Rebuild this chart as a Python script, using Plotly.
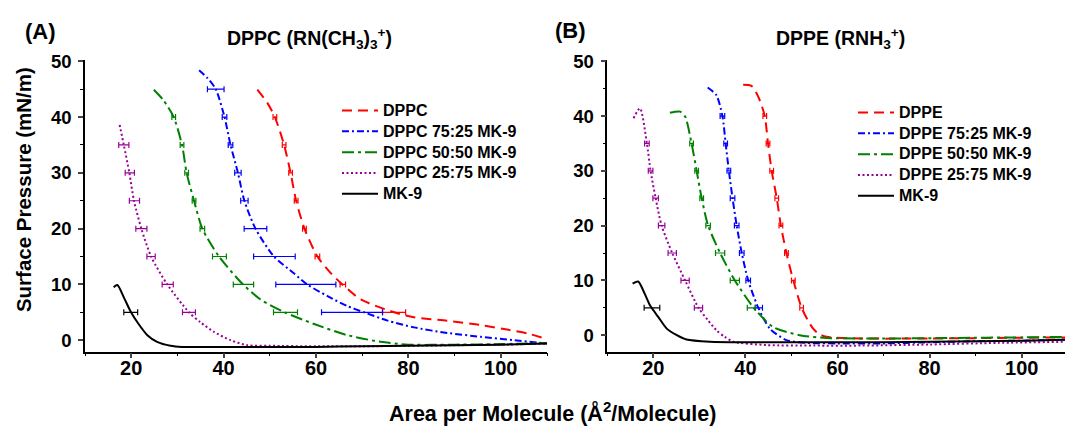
import plotly.graph_objects as go

# ---------------- Data ----------------
# Panel A : DPPC mixtures
A_names = ["DPPC", "DPPC 75:25 MK-9", "DPPC 50:50 MK-9", "DPPC 25:75 MK-9", "MK-9"]
A_dppc_x = [47.3, 49.5, 51.1, 53.1, 54.5, 55.7, 57.5, 60.3, 63.0, 65.7, 69.7, 76.9, 81.2, 88.4, 95.7, 100.7, 105.8, 110]
A_dppc_y = [44.9, 42.5, 40.0, 35.0, 30.0, 25.0, 20.0, 15.0, 12.2, 10.0, 7.3, 5.0, 4.1, 3.5, 2.7, 2.0, 1.2, 0.2]
A_7525_x = [34.7, 36.5, 38.3, 40.2, 41.5, 43.1, 44.5, 46.9, 50.9, 55.2, 58.1, 62.5, 66.8, 70.4, 75.5, 81.2, 88.4, 95.7, 102.9, 110]
A_7525_y = [48.4, 47.0, 45.0, 40.0, 35.0, 30.0, 25.0, 20.0, 15.0, 12.0, 10.0, 7.9, 6.1, 5.0, 3.5, 2.3, 1.3, 0.6, 0.0, -0.6]
A_5050_x = [24.9, 27.0, 29.2, 31.0, 32.0, 33.6, 35.4, 39.0, 44.2, 48.0, 53.2, 59.6, 66.8, 74.0, 80, 90, 100, 110]
A_5050_y = [44.9, 43.0, 40.0, 35.0, 30.0, 25.0, 20.0, 15.0, 10.0, 7.3, 5.0, 2.9, 0.9, -0.3, -0.8, -0.8, -0.7, -0.5]
A_2575_x = [17.5, 18.4, 19.6, 20.6, 22.2, 24.3, 27.8, 32.5, 35.0, 37.9, 41.5, 45.1, 50, 60, 70, 80, 90, 100, 110]
A_2575_y = [38.6, 35.0, 30.0, 25.0, 20.0, 15.0, 10.0, 5.0, 3.2, 1.5, 0.0, -0.9, -1.0, -1.1, -1.1, -1.0, -0.9, -0.8, -0.6]
A_mk9_x = [16.2, 17.0, 18.5, 19.9, 21.6, 23.5, 25.6, 28.5, 31.0, 40, 50, 60, 70, 80, 90, 100, 110]
A_mk9_y = [9.5, 9.9, 7.5, 5.1, 2.9, 0.9, -0.3, -1.0, -1.2, -1.2, -1.2, -1.2, -1.1, -1.0, -0.9, -0.8, -0.6]

# error bars (centre x, pressure level, half width)
A_dppc_ex = [51.1, 53.1, 54.5, 55.7, 57.5, 60.3, 65.8, 76.9]
A_dppc_ey = [40, 35, 30, 25, 20, 15, 10, 5]
A_dppc_eh = [0.4, 0.4, 0.4, 0.4, 0.4, 0.5, 0.6, 2.5]
A_7525_ex = [38.3, 40.2, 41.5, 43.1, 44.5, 46.9, 51.0, 57.8, 67.8]
A_7525_ey = [45, 40, 35, 30, 25, 20, 15, 10, 5]
A_7525_eh = [1.8, 0.5, 0.5, 0.7, 0.8, 2.45, 4.5, 6.5, 6.6]
A_5050_ex = [29.2, 31.0, 32.0, 33.6, 35.4, 39.1, 44.3, 53.4]
A_5050_ey = [40, 35, 30, 25, 20, 15, 10, 5]
A_5050_eh = [0.4, 0.4, 0.4, 0.4, 0.5, 1.5, 2.2, 2.6]
A_2575_ex = [18.4, 19.7, 20.7, 22.2, 24.3, 27.9, 32.5]
A_2575_ey = [35, 30, 25, 20, 15, 10, 5]
A_2575_eh = [1.1, 1.0, 1.1, 1.2, 0.9, 1.2, 1.4]
A_mk9_ex = [19.9]
A_mk9_ey = [5]
A_mk9_eh = [1.5]

# Panel B : DPPE mixtures
B_names = ["DPPE", "DPPE 75:25 MK-9", "DPPE 50:50 MK-9", "DPPE 25:75 MK-9", "MK-9"]
B_dppe_x = [39.5, 41.3, 42.8, 44.2, 44.9, 45.7, 46.8, 47.7, 48.9, 50.4, 52.2, 53.5, 54.7, 56.0, 57.6, 65, 80, 95, 110]
B_dppe_y = [45.7, 45.5, 43.5, 40.0, 35.0, 30.0, 25.0, 20.0, 15.0, 10.0, 5.0, 2.8, 1.2, 0.2, -0.3, -0.6, -0.6, -0.5, -0.4]
B_7525_x = [31.8, 33.7, 35.0, 35.7, 36.4, 37.2, 38.1, 39.2, 40.6, 42.8, 45.3, 48.9, 53.3, 60, 70, 80, 90, 100, 110]
B_7525_y = [45.2, 43.8, 40.0, 35.0, 30.0, 25.0, 20.0, 15.0, 10.0, 5.0, 1.2, -0.9, -1.4, -1.5, -1.5, -1.3, -1.1, -1.0, -0.8]
B_5050_x = [23.6, 25.8, 26.9, 28.3, 29.4, 30.5, 31.9, 34.5, 37.7, 41.8, 46.0, 51.8, 57.6, 70, 85, 100, 110]
B_5050_y = [40.6, 40.8, 39.9, 35.0, 30.0, 25.0, 20.0, 15.0, 10.0, 5.0, 1.5, 0.0, -0.5, -0.6, -0.5, -0.4, -0.3]
B_2575_x = [15.7, 17.1, 18.6, 19.4, 20.5, 21.8, 24.1, 26.9, 29.8, 31.8, 33.7, 35.5, 37.4, 44.6, 55, 65, 80, 95, 110]
B_2575_y = [39.6, 41.4, 35.0, 30.0, 25.0, 20.0, 15.0, 10.0, 5.0, 2.8, 0.9, -0.3, -1.2, -1.8, -1.9, -1.9, -1.7, -1.4, -1.2]
B_mk9_x = [15.5, 16.7, 18.0, 19.3, 21.1, 22.9, 25.1, 27.2, 32.3, 40, 50, 60, 70, 80, 90, 100, 110]
B_mk9_y = [9.4, 9.8, 7.8, 5.4, 3.3, 1.2, 0.0, -0.8, -1.2, -1.3, -1.3, -1.3, -1.3, -1.2, -1.1, -1.0, -0.8]

B_dppe_ex = [44.2, 44.9, 45.7, 46.8, 47.7, 48.9, 50.4, 52.2]
B_dppe_ey = [40, 35, 30, 25, 20, 15, 10, 5]
B_dppe_eh = [0.4, 0.4, 0.4, 0.4, 0.4, 0.4, 0.4, 0.4]
B_7525_ex = [35.0, 35.7, 36.4, 37.2, 38.1, 39.2, 40.6, 42.9]
B_7525_ey = [40, 35, 30, 25, 20, 15, 10, 5]
B_7525_eh = [0.5, 0.4, 0.4, 0.5, 0.5, 0.5, 0.5, 0.8]
B_5050_ex = [28.3, 29.4, 30.5, 31.9, 34.5, 37.7, 41.3]
B_5050_ey = [35, 30, 25, 20, 15, 10, 5]
B_5050_eh = [0.4, 0.4, 0.4, 0.5, 1.0, 1.0, 0.9]
B_2575_ex = [18.6, 19.4, 20.5, 21.8, 24.1, 26.9, 29.8]
B_2575_ey = [35, 30, 25, 20, 15, 10, 5]
B_2575_eh = [0.5, 0.5, 0.6, 0.7, 0.9, 0.9, 0.9]
B_mk9_ex = [19.7]
B_mk9_ey = [5]
B_mk9_eh = [1.7]

x_ticks = [20, 40, 60, 80, 100]
y_ticks = [0, 10, 20, 30, 40, 50]

# ---------------- Styles ----------------
COLORS = ["#ff0000", "#0000ff", "#008000", "#990099", "#000000"]
DASHES = ["10px,6px", "7px,3px,2px,3px", "12px,4px,3px,4px", "2px,2.5px", "solid"]
FONT = "Liberation Sans, Arial, sans-serif"

fig = go.Figure()

panels = [
    ("x", "y", "legend", A_names,
     [(A_dppc_x, A_dppc_y), (A_7525_x, A_7525_y), (A_5050_x, A_5050_y), (A_2575_x, A_2575_y), (A_mk9_x, A_mk9_y)],
     [(A_dppc_ex, A_dppc_ey, A_dppc_eh), (A_7525_ex, A_7525_ey, A_7525_eh), (A_5050_ex, A_5050_ey, A_5050_eh),
      (A_2575_ex, A_2575_ey, A_2575_eh), (A_mk9_ex, A_mk9_ey, A_mk9_eh)]),
    ("x2", "y2", "legend2", B_names,
     [(B_dppe_x, B_dppe_y), (B_7525_x, B_7525_y), (B_5050_x, B_5050_y), (B_2575_x, B_2575_y), (B_mk9_x, B_mk9_y)],
     [(B_dppe_ex, B_dppe_ey, B_dppe_eh), (B_7525_ex, B_7525_ey, B_7525_eh), (B_5050_ex, B_5050_ey, B_5050_eh),
      (B_2575_ex, B_2575_ey, B_2575_eh), (B_mk9_ex, B_mk9_ey, B_mk9_eh)]),
]

for xa, ya, lg, names, curves, errs in panels:
    for i, ((cx, cy), (ex, ey, eh)) in enumerate(zip(curves, errs)):
        fig.add_trace(go.Scatter(
            x=ex, y=ey, mode="markers", xaxis=xa, yaxis=ya,
            marker=dict(size=1, opacity=0, color=COLORS[i]),
            error_x=dict(type="data", array=eh, color=COLORS[i], thickness=1.2, width=3),
            showlegend=False, hoverinfo="skip"))
        fig.add_trace(go.Scatter(
            x=cx, y=cy, mode="lines", xaxis=xa, yaxis=ya,
            name='<span style="font-size:16px">' + names[i] + "</span>", legend=lg,
            line=dict(color=COLORS[i], width=2, dash=DASHES[i], shape="spline", smoothing=0.7)))

W, H = 1065, 427
def px_x(p):
    return p / W
def px_y(p):
    return 1 - p / H

common_x = dict(range=[10, 110], tickvals=x_ticks, ticks="outside", ticklen=5, tickwidth=1.5,
                showline=True, linecolor="black", linewidth=1.5, showgrid=False, zeroline=False,
                tickfont=dict(family=FONT, size=20, color="black", weight="bold"), ticklabelstandoff=-7,
                minor=dict(dtick=10, tick0=0, ticks="outside", ticklen=3, tickwidth=1.2, tickcolor="black"))
common_y = dict(tickvals=y_ticks, ticks="outside", ticklen=5, tickwidth=1.5,
                showline=True, linecolor="black", linewidth=1.5, showgrid=False, zeroline=False,
                tickfont=dict(family=FONT, size=18.5, color="black", weight="bold"), ticklabelstandoff=3,
                minor=dict(dtick=5, tick0=0, ticks="outside", ticklen=3, tickwidth=1.2, tickcolor="black"))

ydom = [px_y(350), px_y(51.7)]
leg_font = dict(family=FONT, size=13.7, color="black", weight="bold")
fig.update_layout(
    width=W, height=H, margin=dict(l=0, r=0, t=0, b=0),
    paper_bgcolor="white", plot_bgcolor="white",
    xaxis=dict(domain=[px_x(85), px_x(547)], anchor="y", **common_x),
    yaxis=dict(domain=ydom, anchor="x", range=[-2.05, 50.3], **common_y),
    xaxis2=dict(domain=[px_x(607.3), 1.0], anchor="y2", **{**common_x, "range": [10, 109.4]}),
    yaxis2=dict(domain=ydom, anchor="x2", range=[-3.0, 50.3], **common_y),
    legend=dict(x=px_x(337), y=px_y(88), xanchor="left", yanchor="top", font=leg_font,
                itemwidth=36, bgcolor="rgba(0,0,0,0)", borderwidth=0, tracegroupgap=0),
    legend2=dict(x=px_x(853), y=px_y(90), xanchor="left", yanchor="top", font=leg_font,
                 itemwidth=36, bgcolor="rgba(0,0,0,0)", borderwidth=0, tracegroupgap=0),
)

ann_font = dict(family=FONT, color="black", weight="bold")
fig.add_annotation(text="(A)", x=px_x(23), y=px_y(23), xref="paper", yref="paper",
                   xanchor="left", yanchor="middle", showarrow=False, font=dict(size=22, **ann_font))
fig.add_annotation(text="(B)", x=px_x(553), y=px_y(22), xref="paper", yref="paper",
                   xanchor="left", yanchor="middle", showarrow=False, font=dict(size=22, **ann_font))
fig.add_annotation(text="DPPC (RN(CH<sub>3</sub>)<sub>3</sub><sup>+</sup>)", x=px_x(309), y=px_y(30),
                   xref="paper", yref="paper", xanchor="center", yanchor="middle", showarrow=False,
                   font=dict(size=19.5, **ann_font))
fig.add_annotation(text="DPPE (RNH<sub>3</sub><sup>+</sup>)", x=px_x(840), y=px_y(30),
                   xref="paper", yref="paper", xanchor="center", yanchor="middle", showarrow=False,
                   font=dict(size=19.5, **ann_font))
fig.add_annotation(text="Surface Pressure (mN/m)", x=px_x(23), y=px_y(185), xref="paper", yref="paper",
                   xanchor="center", yanchor="middle", textangle=-90, showarrow=False,
                   font=dict(size=20.5, **ann_font))
fig.add_annotation(text="Area per Molecule (Å<sup>2</sup>/Molecule)", x=px_x(552), y=px_y(412),
                   xref="paper", yref="paper", xanchor="center", yanchor="middle", showarrow=False,
                   font=dict(size=21.5, **ann_font))

fig.write_html("out.html")
